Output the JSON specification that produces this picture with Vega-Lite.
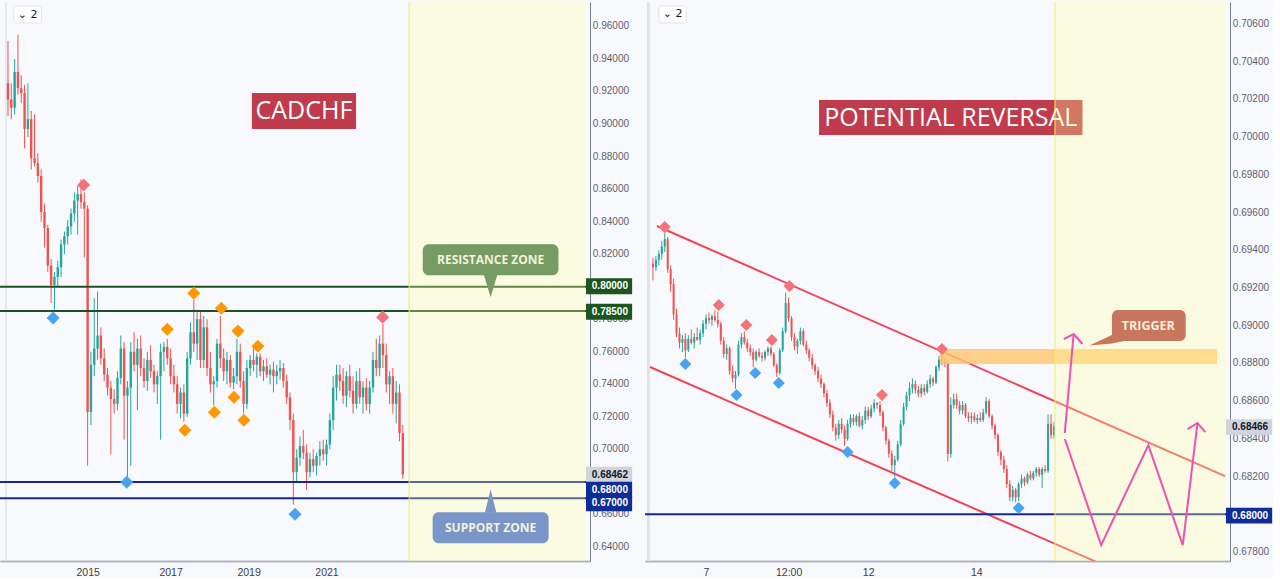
{
"$schema":"https://vega.github.io/schema/vega-lite/v6.json",
"background":"#f8f9fd",
"padding":0,
"spacing":55,
"bounds":"flush",
"config":{"view":{"stroke":null},"axis":{"labelFont":"Liberation Sans","labelOverlap":false,"labelBound":false,"labelFlush":false}},
"datasets":{
"L":[
{"x":0,"o":0.925,"h":0.951,"l":0.905,"c":0.915},{"x":1,"o":0.915,"h":0.925,"l":0.903,"c":0.910},{"x":2,"o":0.910,"h":0.940,"l":0.906,"c":0.932},{"x":3,"o":0.932,"h":0.955,"l":0.918,"c":0.922},{"x":4,"o":0.922,"h":0.930,"l":0.913,"c":0.919},{"x":5,"o":0.919,"h":0.924,"l":0.885,"c":0.897},{"x":6,"o":0.897,"h":0.925,"l":0.892,"c":0.903},{"x":7,"o":0.903,"h":0.908,"l":0.872,"c":0.879},{"x":8,"o":0.879,"h":0.906,"l":0.874,"c":0.876},{"x":9,"o":0.876,"h":0.882,"l":0.864,"c":0.868},
{"x":10,"o":0.868,"h":0.872,"l":0.840,"c":0.846},{"x":11,"o":0.846,"h":0.851,"l":0.824,"c":0.836},{"x":12,"o":0.836,"h":0.838,"l":0.809,"c":0.813},{"x":13,"o":0.813,"h":0.817,"l":0.790,"c":0.801},{"x":14,"o":0.801,"h":0.809,"l":0.786,"c":0.806},{"x":15,"o":0.806,"h":0.816,"l":0.800,"c":0.812},{"x":16,"o":0.812,"h":0.829,"l":0.806,"c":0.826},{"x":17,"o":0.826,"h":0.834,"l":0.820,"c":0.831},{"x":18,"o":0.831,"h":0.841,"l":0.826,"c":0.837},{"x":19,"o":0.837,"h":0.848,"l":0.832,"c":0.845},
{"x":20,"o":0.845,"h":0.858,"l":0.840,"c":0.853},{"x":21,"o":0.853,"h":0.862,"l":0.832,"c":0.857},{"x":22,"o":0.857,"h":0.866,"l":0.848,"c":0.852},{"x":23,"o":0.852,"h":0.858,"l":0.818,"c":0.848},{"x":24,"o":0.848,"h":0.850,"l":0.690,"c":0.723},{"x":25,"o":0.723,"h":0.760,"l":0.715,"c":0.752},{"x":26,"o":0.752,"h":0.793,"l":0.745,"c":0.762},{"x":27,"o":0.762,"h":0.797,"l":0.755,"c":0.770},{"x":28,"o":0.770,"h":0.775,"l":0.752,"c":0.756},{"x":29,"o":0.756,"h":0.762,"l":0.742,"c":0.746},
{"x":30,"o":0.746,"h":0.750,"l":0.733,"c":0.738},{"x":31,"o":0.738,"h":0.742,"l":0.697,"c":0.731},{"x":32,"o":0.731,"h":0.737,"l":0.722,"c":0.728},{"x":33,"o":0.728,"h":0.748,"l":0.724,"c":0.744},{"x":34,"o":0.744,"h":0.770,"l":0.740,"c":0.762},{"x":35,"o":0.762,"h":0.766,"l":0.706,"c":0.733},{"x":36,"o":0.733,"h":0.742,"l":0.682,"c":0.738},{"x":37,"o":0.738,"h":0.766,"l":0.690,"c":0.760},{"x":38,"o":0.760,"h":0.772,"l":0.748,"c":0.752},{"x":39,"o":0.752,"h":0.768,"l":0.724,"c":0.762},
{"x":40,"o":0.762,"h":0.770,"l":0.745,"c":0.750},{"x":41,"o":0.750,"h":0.756,"l":0.738,"c":0.742},{"x":42,"o":0.742,"h":0.760,"l":0.736,"c":0.755},{"x":43,"o":0.755,"h":0.764,"l":0.744,"c":0.748},{"x":44,"o":0.748,"h":0.752,"l":0.735,"c":0.740},{"x":45,"o":0.740,"h":0.748,"l":0.728,"c":0.745},{"x":46,"o":0.745,"h":0.765,"l":0.706,"c":0.760},{"x":47,"o":0.760,"h":0.766,"l":0.748,"c":0.763},{"x":48,"o":0.763,"h":0.768,"l":0.752,"c":0.756},{"x":49,"o":0.756,"h":0.762,"l":0.740,"c":0.745},
{"x":50,"o":0.745,"h":0.752,"l":0.735,"c":0.740},{"x":51,"o":0.740,"h":0.745,"l":0.722,"c":0.728},{"x":52,"o":0.728,"h":0.738,"l":0.719,"c":0.735},{"x":53,"o":0.735,"h":0.740,"l":0.717,"c":0.722},{"x":54,"o":0.722,"h":0.760,"l":0.720,"c":0.756},{"x":55,"o":0.756,"h":0.778,"l":0.752,"c":0.772},{"x":56,"o":0.772,"h":0.792,"l":0.760,"c":0.765},{"x":57,"o":0.765,"h":0.786,"l":0.755,"c":0.780},{"x":58,"o":0.780,"h":0.785,"l":0.750,"c":0.755},{"x":59,"o":0.755,"h":0.782,"l":0.750,"c":0.775},
{"x":60,"o":0.775,"h":0.780,"l":0.745,"c":0.750},{"x":61,"o":0.750,"h":0.760,"l":0.735,"c":0.740},{"x":62,"o":0.740,"h":0.745,"l":0.727,"c":0.742},{"x":63,"o":0.742,"h":0.768,"l":0.738,"c":0.765},{"x":64,"o":0.765,"h":0.782,"l":0.750,"c":0.756},{"x":65,"o":0.756,"h":0.762,"l":0.742,"c":0.748},{"x":66,"o":0.748,"h":0.760,"l":0.740,"c":0.755},{"x":67,"o":0.755,"h":0.758,"l":0.738,"c":0.741},{"x":68,"o":0.741,"h":0.750,"l":0.737,"c":0.745},{"x":69,"o":0.745,"h":0.768,"l":0.740,"c":0.760},
{"x":70,"o":0.760,"h":0.765,"l":0.738,"c":0.742},{"x":71,"o":0.742,"h":0.748,"l":0.722,"c":0.728},{"x":72,"o":0.728,"h":0.755,"l":0.725,"c":0.750},{"x":73,"o":0.750,"h":0.758,"l":0.745,"c":0.755},{"x":74,"o":0.755,"h":0.762,"l":0.748,"c":0.752},{"x":75,"o":0.752,"h":0.759,"l":0.744,"c":0.757},{"x":76,"o":0.757,"h":0.759,"l":0.745,"c":0.748},{"x":77,"o":0.748,"h":0.755,"l":0.742,"c":0.751},{"x":78,"o":0.751,"h":0.756,"l":0.744,"c":0.746},{"x":79,"o":0.746,"h":0.752,"l":0.740,"c":0.749},
{"x":80,"o":0.749,"h":0.754,"l":0.735,"c":0.745},{"x":81,"o":0.745,"h":0.752,"l":0.740,"c":0.748},{"x":82,"o":0.748,"h":0.755,"l":0.743,"c":0.750},{"x":83,"o":0.750,"h":0.753,"l":0.738,"c":0.742},{"x":84,"o":0.742,"h":0.746,"l":0.728,"c":0.732},{"x":85,"o":0.732,"h":0.735,"l":0.712,"c":0.718},{"x":86,"o":0.718,"h":0.722,"l":0.666,"c":0.686},{"x":87,"o":0.686,"h":0.700,"l":0.680,"c":0.695},{"x":88,"o":0.695,"h":0.708,"l":0.690,"c":0.702},{"x":89,"o":0.702,"h":0.712,"l":0.694,"c":0.698},
{"x":90,"o":0.698,"h":0.703,"l":0.675,"c":0.686},{"x":91,"o":0.686,"h":0.698,"l":0.683,"c":0.694},{"x":92,"o":0.694,"h":0.700,"l":0.686,"c":0.690},{"x":93,"o":0.690,"h":0.698,"l":0.684,"c":0.696},{"x":94,"o":0.696,"h":0.705,"l":0.690,"c":0.700},{"x":95,"o":0.700,"h":0.706,"l":0.693,"c":0.697},{"x":96,"o":0.697,"h":0.706,"l":0.690,"c":0.703},{"x":97,"o":0.703,"h":0.722,"l":0.700,"c":0.718},{"x":98,"o":0.718,"h":0.745,"l":0.712,"c":0.738},{"x":99,"o":0.738,"h":0.752,"l":0.730,"c":0.746},
{"x":100,"o":0.746,"h":0.752,"l":0.736,"c":0.742},{"x":101,"o":0.742,"h":0.750,"l":0.728,"c":0.733},{"x":102,"o":0.733,"h":0.748,"l":0.726,"c":0.745},{"x":103,"o":0.745,"h":0.752,"l":0.732,"c":0.736},{"x":104,"o":0.736,"h":0.745,"l":0.722,"c":0.728},{"x":105,"o":0.728,"h":0.748,"l":0.725,"c":0.742},{"x":106,"o":0.742,"h":0.750,"l":0.728,"c":0.732},{"x":107,"o":0.732,"h":0.742,"l":0.722,"c":0.738},{"x":108,"o":0.738,"h":0.744,"l":0.724,"c":0.728},{"x":109,"o":0.728,"h":0.742,"l":0.722,"c":0.738},
{"x":110,"o":0.738,"h":0.760,"l":0.735,"c":0.755},{"x":111,"o":0.755,"h":0.768,"l":0.745,"c":0.750},{"x":112,"o":0.750,"h":0.770,"l":0.745,"c":0.765},{"x":113,"o":0.765,"h":0.777,"l":0.750,"c":0.758},{"x":114,"o":0.758,"h":0.765,"l":0.735,"c":0.740},{"x":115,"o":0.740,"h":0.748,"l":0.728,"c":0.745},{"x":116,"o":0.745,"h":0.750,"l":0.722,"c":0.728},{"x":117,"o":0.728,"h":0.742,"l":0.716,"c":0.735},{"x":118,"o":0.735,"h":0.740,"l":0.705,"c":0.710},{"x":119,"o":0.710,"h":0.715,"l":0.682,"c":0.6846}
],
"LD":[
{"x":22.8,"y":0.8625,"k":"r"},{"x":112.9,"y":0.7813,"k":"r"},
{"x":13.6,"y":0.7807,"k":"b"},{"x":35.8,"y":0.6798,"k":"b"},{"x":86.5,"y":0.6601,"k":"b"},
{"x":48.0,"y":0.7739,"k":"o"},{"x":56.0,"y":0.7960,"k":"o"},{"x":64.3,"y":0.7868,"k":"o"},{"x":69.3,"y":0.7727,"k":"o"},{"x":75.3,"y":0.7634,"k":"o"},{"x":53.3,"y":0.7118,"k":"o"},{"x":62.2,"y":0.7228,"k":"o"},{"x":68.1,"y":0.7321,"k":"o"},{"x":71.1,"y":0.7179,"k":"o"}
],
"LY":[
{"v":0.64,"t":"0.64000"},{"v":0.66,"t":"0.66000"},{"v":0.70,"t":"0.70000"},{"v":0.72,"t":"0.72000"},{"v":0.74,"t":"0.74000"},{"v":0.76,"t":"0.76000"},{"v":0.78,"t":"0.78000"},{"v":0.82,"t":"0.82000"},{"v":0.84,"t":"0.84000"},{"v":0.86,"t":"0.86000"},{"v":0.88,"t":"0.88000"},{"v":0.90,"t":"0.90000"},{"v":0.92,"t":"0.92000"},{"v":0.94,"t":"0.94000"},{"v":0.96,"t":"0.96000"}
],
"RY":[
{"v":0.678,"t":"0.67800"},{"v":0.682,"t":"0.68200"},{"v":0.684,"t":"0.68400"},{"v":0.686,"t":"0.68600"},{"v":0.688,"t":"0.68800"},{"v":0.690,"t":"0.69000"},{"v":0.692,"t":"0.69200"},{"v":0.694,"t":"0.69400"},{"v":0.696,"t":"0.69600"},{"v":0.698,"t":"0.69800"},{"v":0.700,"t":"0.70000"},{"v":0.702,"t":"0.70200"},{"v":0.704,"t":"0.70400"},{"v":0.706,"t":"0.70600"}
],
"R":[
{"x":0,"o":0.69330,"h":0.69360,"l":0.69240,"c":0.69310},{"x":1,"o":0.69310,"h":0.69370,"l":0.69290,"c":0.69350},{"x":2,"o":0.69350,"h":0.69400,"l":0.69320,"c":0.69380},{"x":3,"o":0.69380,"h":0.69450,"l":0.69350,"c":0.69420},{"x":4,"o":0.69420,"h":0.69490,"l":0.69390,"c":0.69460},{"x":5,"o":0.69460,"h":0.69470,"l":0.69280,"c":0.69300},{"x":6,"o":0.69300,"h":0.69320,"l":0.69180,"c":0.69220},{"x":7,"o":0.69220,"h":0.69250,"l":0.69030,"c":0.69060},{"x":8,"o":0.69060,"h":0.69090,"l":0.68940,"c":0.68960},{"x":9,"o":0.68960,"h":0.68990,"l":0.68880,"c":0.68910},
{"x":10,"o":0.68910,"h":0.68950,"l":0.68860,"c":0.68930},{"x":11,"o":0.68930,"h":0.68960,"l":0.68830,"c":0.68870},{"x":12,"o":0.68870,"h":0.68950,"l":0.68860,"c":0.68930},{"x":13,"o":0.68930,"h":0.68980,"l":0.68900,"c":0.68910},{"x":14,"o":0.68910,"h":0.68960,"l":0.68880,"c":0.68940},{"x":15,"o":0.68940,"h":0.68990,"l":0.68920,"c":0.68925},{"x":16,"o":0.68925,"h":0.68980,"l":0.68900,"c":0.68960},{"x":17,"o":0.68960,"h":0.69030,"l":0.68940,"c":0.69010},{"x":18,"o":0.69010,"h":0.69060,"l":0.68980,"c":0.69040},{"x":19,"o":0.69040,"h":0.69070,"l":0.69010,"c":0.69030},
{"x":20,"o":0.69030,"h":0.69060,"l":0.69000,"c":0.69050},{"x":21,"o":0.69050,"h":0.69080,"l":0.69020,"c":0.69030},{"x":22,"o":0.69030,"h":0.69075,"l":0.68990,"c":0.69010},{"x":23,"o":0.69010,"h":0.69020,"l":0.68900,"c":0.68920},{"x":24,"o":0.68920,"h":0.68940,"l":0.68830,"c":0.68850},{"x":25,"o":0.68850,"h":0.68900,"l":0.68820,"c":0.68880},{"x":26,"o":0.68880,"h":0.68890,"l":0.68740,"c":0.68760},{"x":27,"o":0.68760,"h":0.68790,"l":0.68700,"c":0.68720},{"x":28,"o":0.68720,"h":0.68760,"l":0.68665,"c":0.68740},{"x":29,"o":0.68740,"h":0.68920,"l":0.68730,"c":0.68900},
{"x":30,"o":0.68900,"h":0.68960,"l":0.68880,"c":0.68940},{"x":31,"o":0.68940,"h":0.68970,"l":0.68900,"c":0.68910},{"x":32,"o":0.68910,"h":0.68930,"l":0.68860,"c":0.68880},{"x":33,"o":0.68880,"h":0.68900,"l":0.68840,"c":0.68860},{"x":34,"o":0.68860,"h":0.68880,"l":0.68780,"c":0.68820},{"x":35,"o":0.68820,"h":0.68870,"l":0.68810,"c":0.68860},{"x":36,"o":0.68860,"h":0.68880,"l":0.68830,"c":0.68840},{"x":37,"o":0.68840,"h":0.68860,"l":0.68810,"c":0.68830},{"x":38,"o":0.68830,"h":0.68870,"l":0.68815,"c":0.68860},{"x":39,"o":0.68860,"h":0.68890,"l":0.68840,"c":0.68880},
{"x":40,"o":0.68880,"h":0.68890,"l":0.68840,"c":0.68850},{"x":41,"o":0.68850,"h":0.68860,"l":0.68780,"c":0.68790},{"x":42,"o":0.68790,"h":0.68800,"l":0.68728,"c":0.68750},{"x":43,"o":0.68750,"h":0.68880,"l":0.68740,"c":0.68870},{"x":44,"o":0.68870,"h":0.68990,"l":0.68860,"c":0.68970},{"x":45,"o":0.68970,"h":0.69175,"l":0.68960,"c":0.69120},{"x":46,"o":0.69120,"h":0.69150,"l":0.69020,"c":0.69040},{"x":47,"o":0.69040,"h":0.69050,"l":0.68920,"c":0.68940},{"x":48,"o":0.68940,"h":0.68960,"l":0.68870,"c":0.68890},{"x":49,"o":0.68890,"h":0.68930,"l":0.68850,"c":0.68920},
{"x":50,"o":0.68920,"h":0.68990,"l":0.68900,"c":0.68970},{"x":51,"o":0.68970,"h":0.68985,"l":0.68890,"c":0.68900},{"x":52,"o":0.68900,"h":0.68920,"l":0.68850,"c":0.68870},{"x":53,"o":0.68870,"h":0.68880,"l":0.68810,"c":0.68830},{"x":54,"o":0.68830,"h":0.68850,"l":0.68770,"c":0.68790},{"x":55,"o":0.68790,"h":0.68800,"l":0.68740,"c":0.68760},{"x":56,"o":0.68760,"h":0.68780,"l":0.68700,"c":0.68720},{"x":57,"o":0.68720,"h":0.68740,"l":0.68670,"c":0.68690},{"x":58,"o":0.68690,"h":0.68700,"l":0.68620,"c":0.68640},{"x":59,"o":0.68640,"h":0.68660,"l":0.68570,"c":0.68590},
{"x":60,"o":0.68590,"h":0.68610,"l":0.68510,"c":0.68530},{"x":61,"o":0.68530,"h":0.68550,"l":0.68440,"c":0.68460},{"x":62,"o":0.68460,"h":0.68480,"l":0.68390,"c":0.68420},{"x":63,"o":0.68420,"h":0.68500,"l":0.68400,"c":0.68480},{"x":64,"o":0.68480,"h":0.68510,"l":0.68430,"c":0.68450},{"x":65,"o":0.68450,"h":0.68470,"l":0.68362,"c":0.68400},{"x":66,"o":0.68400,"h":0.68500,"l":0.68390,"c":0.68480},{"x":67,"o":0.68480,"h":0.68530,"l":0.68460,"c":0.68510},{"x":68,"o":0.68510,"h":0.68530,"l":0.68470,"c":0.68490},{"x":69,"o":0.68490,"h":0.68530,"l":0.68470,"c":0.68520},
{"x":70,"o":0.68520,"h":0.68540,"l":0.68460,"c":0.68470},{"x":71,"o":0.68470,"h":0.68520,"l":0.68450,"c":0.68500},{"x":72,"o":0.68500,"h":0.68570,"l":0.68480,"c":0.68550},{"x":73,"o":0.68550,"h":0.68570,"l":0.68500,"c":0.68520},{"x":74,"o":0.68520,"h":0.68580,"l":0.68510,"c":0.68560},{"x":75,"o":0.68560,"h":0.68610,"l":0.68540,"c":0.68590},{"x":76,"o":0.68590,"h":0.68595,"l":0.68560,"c":0.68580},{"x":77,"o":0.68580,"h":0.68600,"l":0.68520,"c":0.68540},{"x":78,"o":0.68540,"h":0.68550,"l":0.68440,"c":0.68460},{"x":79,"o":0.68460,"h":0.68470,"l":0.68370,"c":0.68390},
{"x":80,"o":0.68390,"h":0.68400,"l":0.68300,"c":0.68320},{"x":81,"o":0.68320,"h":0.68340,"l":0.68230,"c":0.68260},{"x":82,"o":0.68260,"h":0.68310,"l":0.68197,"c":0.68290},{"x":83,"o":0.68290,"h":0.68390,"l":0.68280,"c":0.68370},{"x":84,"o":0.68370,"h":0.68500,"l":0.68360,"c":0.68480},{"x":85,"o":0.68480,"h":0.68590,"l":0.68470,"c":0.68570},{"x":86,"o":0.68570,"h":0.68650,"l":0.68550,"c":0.68630},{"x":87,"o":0.68630,"h":0.68700,"l":0.68600,"c":0.68670},{"x":88,"o":0.68670,"h":0.68720,"l":0.68640,"c":0.68690},{"x":89,"o":0.68690,"h":0.68710,"l":0.68640,"c":0.68660},
{"x":90,"o":0.68660,"h":0.68680,"l":0.68620,"c":0.68640},{"x":91,"o":0.68640,"h":0.68690,"l":0.68620,"c":0.68670},{"x":92,"o":0.68670,"h":0.68690,"l":0.68630,"c":0.68650},{"x":93,"o":0.68650,"h":0.68710,"l":0.68640,"c":0.68690},{"x":94,"o":0.68690,"h":0.68740,"l":0.68670,"c":0.68720},{"x":95,"o":0.68720,"h":0.68730,"l":0.68680,"c":0.68700},{"x":96,"o":0.68700,"h":0.68790,"l":0.68690,"c":0.68780},{"x":97,"o":0.68780,"h":0.68840,"l":0.68760,"c":0.68820},{"x":98,"o":0.68820,"h":0.68845,"l":0.68790,"c":0.68810},{"x":99,"o":0.68810,"h":0.68830,"l":0.68780,"c":0.68800},
{"x":100,"o":0.68800,"h":0.68820,"l":0.68280,"c":0.68320},{"x":101,"o":0.68320,"h":0.68620,"l":0.68300,"c":0.68580},{"x":102,"o":0.68580,"h":0.68640,"l":0.68560,"c":0.68610},{"x":103,"o":0.68610,"h":0.68640,"l":0.68560,"c":0.68580},{"x":104,"o":0.68580,"h":0.68600,"l":0.68530,"c":0.68550},{"x":105,"o":0.68550,"h":0.68600,"l":0.68530,"c":0.68580},{"x":106,"o":0.68580,"h":0.68590,"l":0.68510,"c":0.68520},{"x":107,"o":0.68520,"h":0.68540,"l":0.68490,"c":0.68510},{"x":108,"o":0.68510,"h":0.68540,"l":0.68480,"c":0.68520},{"x":109,"o":0.68520,"h":0.68540,"l":0.68490,"c":0.68500},
{"x":110,"o":0.68500,"h":0.68530,"l":0.68480,"c":0.68510},{"x":111,"o":0.68510,"h":0.68540,"l":0.68490,"c":0.68500},{"x":112,"o":0.68500,"h":0.68560,"l":0.68490,"c":0.68540},{"x":113,"o":0.68540,"h":0.68620,"l":0.68530,"c":0.68600},{"x":114,"o":0.68600,"h":0.68610,"l":0.68510,"c":0.68520},{"x":115,"o":0.68520,"h":0.68530,"l":0.68450,"c":0.68470},{"x":116,"o":0.68470,"h":0.68480,"l":0.68400,"c":0.68420},{"x":117,"o":0.68420,"h":0.68430,"l":0.68310,"c":0.68330},{"x":118,"o":0.68330,"h":0.68340,"l":0.68260,"c":0.68290},{"x":119,"o":0.68290,"h":0.68310,"l":0.68220,"c":0.68240},
{"x":120,"o":0.68240,"h":0.68260,"l":0.68140,"c":0.68160},{"x":121,"o":0.68160,"h":0.68180,"l":0.68070,"c":0.68090},{"x":122,"o":0.68090,"h":0.68150,"l":0.68070,"c":0.68130},{"x":123,"o":0.68130,"h":0.68140,"l":0.68065,"c":0.68090},{"x":124,"o":0.68090,"h":0.68170,"l":0.68070,"c":0.68160},{"x":125,"o":0.68160,"h":0.68210,"l":0.68140,"c":0.68190},{"x":126,"o":0.68190,"h":0.68200,"l":0.68150,"c":0.68170},{"x":127,"o":0.68170,"h":0.68220,"l":0.68160,"c":0.68210},{"x":128,"o":0.68210,"h":0.68230,"l":0.68180,"c":0.68190},{"x":129,"o":0.68190,"h":0.68230,"l":0.68180,"c":0.68220},
{"x":130,"o":0.68220,"h":0.68250,"l":0.68200,"c":0.68240},{"x":131,"o":0.68240,"h":0.68250,"l":0.68200,"c":0.68210},{"x":132,"o":0.68210,"h":0.68250,"l":0.68140,"c":0.68240},{"x":133,"o":0.68240,"h":0.68260,"l":0.68220,"c":0.68230},{"x":134,"o":0.68230,"h":0.68530,"l":0.68220,"c":0.68480},{"x":135,"o":0.68480,"h":0.68530,"l":0.68400,"c":0.68420},{"x":136,"o":0.68420,"h":0.68490,"l":0.68400,"c":0.68466}
],
"RD":[
{"x":4,"y":0.69523,"k":"r"},{"x":22.33,"y":0.69110,"k":"r"},{"x":31.67,"y":0.69004,"k":"r"},{"x":40.33,"y":0.68924,"k":"r"},{"x":46.33,"y":0.69210,"k":"r"},{"x":77.67,"y":0.68632,"k":"r"},{"x":98,"y":0.68876,"k":"r"},
{"x":11,"y":0.68797,"k":"b"},{"x":28.33,"y":0.68632,"k":"b"},{"x":34.67,"y":0.68749,"k":"b"},{"x":42.67,"y":0.68696,"k":"b"},{"x":66,"y":0.68330,"k":"b"},{"x":82,"y":0.68165,"k":"b"},{"x":124,"y":0.68033,"k":"b"}
]
},
"hconcat":[
{
"width":590,"height":559,
"layer":[
{"data":{"name":"L"},"mark":{"type":"rule","clip":true,"strokeWidth":1},
 "encoding":{"x":{"field":"x","type":"quantitative","scale":{"domain":[-0.9,173.9],"nice":false,"zero":false},
   "axis":{"values":[24,49,72.5,96],"labelExpr":"datum.value<30?'2015':datum.value<60?'2017':datum.value<85?'2019':'2021'","title":null,"grid":false,"ticks":false,"domainColor":"#b2b5be","domainWidth":2,"labelColor":"#3b3e48","labelFontSize":10.5,"labelPadding":6}},
  "y":{"field":"l","type":"quantitative","scale":{"domain":[0.6314,0.975],"nice":false,"zero":false},
   "axis":{"orient":"right","labels":false,"title":null,"grid":false,"ticks":false,"domainColor":"#787b86"}},
  "y2":{"field":"h"},
  "color":{"condition":{"test":"datum.c>=datum.o","value":"#26a69a"},"value":"#ef5350"}}},
{"data":{"values":[{"x":-0.6}]},"mark":{"type":"rule","color":"#e0e3eb","strokeWidth":1.5,"clip":false},
 "encoding":{"x":{"field":"x","type":"quantitative"}}},
{"data":{"name":"L"},"mark":{"type":"bar","clip":true,"size":2.4},
 "encoding":{"x":{"field":"x","type":"quantitative"},"y":{"field":"o","type":"quantitative"},"y2":{"field":"c"},
  "color":{"condition":{"test":"datum.c>=datum.o","value":"#26a69a"},"value":"#ef5350"}}},
{"data":{"values":[{"y":0.80,"k":"g"},{"y":0.785,"k":"g"},{"y":0.68,"k":"n"},{"y":0.67,"k":"n"}]},"mark":{"type":"rule","clip":true,"strokeWidth":2},
 "encoding":{"y":{"field":"y","type":"quantitative"},"color":{"condition":{"test":"datum.k=='g'","value":"#1e5221"},"value":"#15298c"}}},
{"data":{"name":"LD"},"mark":{"type":"point","shape":"diamond","filled":true,"size":170,"opacity":1,"clip":true},
 "encoding":{"x":{"field":"x","type":"quantitative"},"y":{"field":"y","type":"quantitative"},
  "color":{"condition":[{"test":"datum.k=='r'","value":"#f4727a"},{"test":"datum.k=='b'","value":"#4aa3f0"}],"value":"#ff9800"}}},
{"data":{"values":[{"x":73.5,"x2":104.9,"y":0.8969,"y2":0.9190}]},"mark":{"type":"rect","color":"#c03b4b"},
 "encoding":{"x":{"field":"x","type":"quantitative"},"x2":{"field":"x2"},"y":{"field":"y","type":"quantitative"},"y2":{"field":"y2"}}},
{"data":{"values":[{"x":89.2,"y":0.9080,"t":"CADCHF"}]},"mark":{"type":"text","color":"#ffffff","font":"Open Sans","fontSize":25,"align":"center","baseline":"middle"},
 "encoding":{"x":{"field":"x","type":"quantitative"},"y":{"field":"y","type":"quantitative"},"text":{"field":"t"}}},
{"data":{"values":[{"x":120.9,"x2":173.9,"y":0.6314,"y2":0.975}]},"mark":{"type":"rect","color":"#ffff9f","opacity":0.3,"clip":true},
 "encoding":{"x":{"field":"x","type":"quantitative"},"x2":{"field":"x2"},"y":{"field":"y","type":"quantitative"},"y2":{"field":"y2"}}},
{"data":{"values":[{"x":120.9}]},"mark":{"type":"rule","color":"#ecec74","strokeWidth":1},
 "encoding":{"x":{"field":"x","type":"quantitative"}}},
{"data":{"values":[{"x":125.0,"x2":165.9,"y":0.80711,"y2":0.82617,"k":"r"},{"x":127.98,"x2":162.94,"y":0.64228,"y2":0.66135,"k":"s"}]},"mark":{"type":"rect","cornerRadius":6},
 "encoding":{"x":{"field":"x","type":"quantitative"},"x2":{"field":"x2"},"y":{"field":"y","type":"quantitative"},"y2":{"field":"y2"},
  "color":{"condition":{"test":"datum.k=='r'","value":"#769b63"},"value":"#7a95c7"}}},
{"data":{"values":[{"k":"r","x":143.4,"y":0.8075,"y2":0.8075},{"k":"r","x":145.46,"y":0.8075,"y2":0.79357},{"k":"r","x":147.5,"y":0.8075,"y2":0.8075},
  {"k":"s","x":143.7,"y":0.6610,"y2":0.6610},{"k":"s","x":145.46,"y":0.6610,"y2":0.67549},{"k":"s","x":147.2,"y":0.6610,"y2":0.6610}]},
 "mark":{"type":"area","opacity":1},
 "encoding":{"x":{"field":"x","type":"quantitative"},"y":{"field":"y","type":"quantitative"},"y2":{"field":"y2"},"detail":{"field":"k"},
  "color":{"condition":{"test":"datum.k=='r'","value":"#769b63"},"value":"#7a95c7"}}},
{"data":{"values":[{"x":145.46,"y":0.81664,"t":"RESISTANCE ZONE"},{"x":145.46,"y":0.65182,"t":"SUPPORT ZONE"}]},"mark":{"type":"text","color":"#f3f2da","font":"Open Sans","fontWeight":"bold","fontSize":12,"align":"center","baseline":"middle"},
 "encoding":{"x":{"field":"x","type":"quantitative"},"y":{"field":"y","type":"quantitative"},"text":{"field":"t"}}},
{"data":{"name":"LY"},"mark":{"type":"text","clip":false,"font":"Liberation Sans","fontSize":10,"color":"#5d606b","align":"left","baseline":"middle"},
 "encoding":{"x":{"datum":176.27,"type":"quantitative"},"y":{"field":"v","type":"quantitative"},"text":{"field":"t"}}},
{"data":{"values":[{"x":174.2,"x2":188.1,"y":0.79542,"y2":0.80526,"k":"g"},{"x":174.2,"x2":188.1,"y":0.77974,"y2":0.78958,"k":"g"},{"x":174.2,"x2":188.1,"y":0.67949,"y2":0.68933,"k":"w"},{"x":174.2,"x2":188.1,"y":0.67026,"y2":0.68010,"k":"n"},{"x":174.2,"x2":188.1,"y":0.66196,"y2":0.67180,"k":"n"}]},
 "mark":{"type":"rect","clip":false},
 "encoding":{"x":{"field":"x","type":"quantitative"},"x2":{"field":"x2"},"y":{"field":"y","type":"quantitative"},"y2":{"field":"y2"},
  "color":{"condition":[{"test":"datum.k=='g'","value":"#1d5520"},{"test":"datum.k=='w'","value":"#d1d4dc"}],"value":"#0f2d96"}}},
{"data":{"values":[{"x":181.4,"y":0.80034,"t":"0.80000","k":"g"},{"x":181.4,"y":0.78466,"t":"0.78500","k":"g"},{"x":181.4,"y":0.68441,"t":"0.68462","k":"w"},{"x":181.4,"y":0.67518,"t":"0.68000","k":"n"},{"x":181.4,"y":0.66688,"t":"0.67000","k":"n"}]},
 "mark":{"type":"text","clip":false,"font":"Liberation Sans","fontWeight":"bold","fontSize":10,"align":"center","baseline":"middle"},
 "encoding":{"x":{"field":"x","type":"quantitative"},"y":{"field":"y","type":"quantitative"},"text":{"field":"t"},
  "color":{"condition":{"test":"datum.k=='w'","value":"#131722"},"value":"#ffffff"}}},
{"data":{"values":[{"x":1.77,"x2":10.06,"y":0.96209,"y2":0.97254}]},"mark":{"type":"rect","fill":"#ffffff","stroke":"#e0e3eb","strokeWidth":1,"cornerRadius":3},
 "encoding":{"x":{"field":"x","type":"quantitative"},"x2":{"field":"x2"},"y":{"field":"y","type":"quantitative"},"y2":{"field":"y2"}}},
{"data":{"values":[{"x":5.91,"y":0.96731,"t":"⌄ 2"}]},"mark":{"type":"text","color":"#131722","font":"DejaVu Sans","fontSize":11,"align":"center","baseline":"middle"},
 "encoding":{"x":{"field":"x","type":"quantitative"},"y":{"field":"y","type":"quantitative"},"text":{"field":"t"}}}
]
},
{
"width":585,"height":559,
"layer":[
{"data":{"name":"R"},"mark":{"type":"rule","clip":true,"strokeWidth":1},
 "encoding":{"x":{"field":"x","type":"quantitative","scale":{"domain":[-1,194],"nice":false,"zero":false},
   "axis":{"values":[18,46,73,109.67],"labelExpr":"datum.value<30?'7':datum.value<60?'12:00':datum.value<90?'12':'14'","title":null,"grid":false,"ticks":false,"domainColor":"#b2b5be","domainWidth":2,"labelColor":"#3b3e48","labelFontSize":10.5,"labelPadding":6}},
  "y":{"field":"l","type":"quantitative","scale":{"domain":[0.67752,0.70717],"nice":false,"zero":false},
   "axis":{"orient":"right","labels":false,"title":null,"grid":false,"ticks":false,"domainColor":"#787b86"}},
  "y2":{"field":"h"},
  "color":{"condition":{"test":"datum.c>=datum.o","value":"#26a69a"},"value":"#ef5350"}}},
{"data":{"values":[{"x":-1.5}]},"mark":{"type":"rule","color":"#e0e3eb","strokeWidth":3,"clip":false},
 "encoding":{"x":{"field":"x","type":"quantitative"}}},
{"data":{"name":"R"},"mark":{"type":"bar","clip":true,"size":2},
 "encoding":{"x":{"field":"x","type":"quantitative"},"y":{"field":"o","type":"quantitative"},"y2":{"field":"c"},
  "color":{"condition":{"test":"datum.c>=datum.o","value":"#26a69a"},"value":"#ef5350"}}},
{"data":{"values":[{"k":"u","x":1.33,"y":0.69529},{"k":"u","x":194,"y":0.68202},{"k":"l","x":-1,"y":0.68781},{"k":"l","x":150,"y":0.67750}]},
 "mark":{"type":"line","clip":true,"color":"#ee4458","strokeWidth":2},
 "encoding":{"x":{"field":"x","type":"quantitative"},"y":{"field":"y","type":"quantitative"},"detail":{"field":"k"}}},
{"data":{"values":[{"y":0.68}]},"mark":{"type":"rule","clip":true,"strokeWidth":2,"color":"#15298c"},
 "encoding":{"y":{"field":"y","type":"quantitative"}}},
{"data":{"values":[{"x":97.33,"x2":191.33,"y":0.68797,"y2":0.68876}]},"mark":{"type":"rect","color":"#ffc46b","opacity":0.8,"clip":true},
 "encoding":{"x":{"field":"x","type":"quantitative"},"x2":{"field":"x2"},"y":{"field":"y","type":"quantitative"},"y2":{"field":"y2"}}},
{"data":{"name":"RD"},"mark":{"type":"point","shape":"diamond","filled":true,"size":145,"opacity":1,"clip":true},
 "encoding":{"x":{"field":"x","type":"quantitative"},"y":{"field":"y","type":"quantitative"},
  "color":{"condition":{"test":"datum.k=='r'","value":"#f4727a"},"value":"#4aa3f0"}}},
{"data":{"values":[{"x":56.33,"x2":145.67,"y":0.70011,"y2":0.70197}]},"mark":{"type":"rect","color":"#c03b4b"},
 "encoding":{"x":{"field":"x","type":"quantitative"},"x2":{"field":"x2"},"y":{"field":"y","type":"quantitative"},"y2":{"field":"y2"}}},
{"data":{"values":[{"x":101,"y":0.70104,"t":"POTENTIAL REVERSAL"}]},"mark":{"type":"text","color":"#ffffff","font":"Open Sans","fontSize":25,"align":"center","baseline":"middle"},
 "encoding":{"x":{"field":"x","type":"quantitative"},"y":{"field":"y","type":"quantitative"},"text":{"field":"t"}}},
{"data":{"values":[{"x":136.33,"x2":194,"y":0.67752,"y2":0.70717}]},"mark":{"type":"rect","color":"#ffff9f","opacity":0.3,"clip":true},
 "encoding":{"x":{"field":"x","type":"quantitative"},"x2":{"field":"x2"},"y":{"field":"y","type":"quantitative"},"y2":{"field":"y2"}}},
{"data":{"values":[{"x":136.33}]},"mark":{"type":"rule","color":"#ecec74","strokeWidth":1},
 "encoding":{"x":{"field":"x","type":"quantitative"}}},
{"data":{"values":[
  {"k":"a","o":1,"x":139.67,"y":0.68431},{"k":"a","o":2,"x":142.67,"y":0.68956},
  {"k":"b","o":1,"x":139.33,"y":0.68929},{"k":"b","o":2,"x":142.67,"y":0.68956},{"k":"b","o":3,"x":145.67,"y":0.68903},
  {"k":"c","o":1,"x":139.67,"y":0.68399},{"k":"c","o":2,"x":152,"y":0.67836},{"k":"c","o":3,"x":168,"y":0.68367},{"k":"c","o":4,"x":179.67,"y":0.67836},{"k":"c","o":5,"x":184.67,"y":0.68484},
  {"k":"d","o":1,"x":181.33,"y":0.68452},{"k":"d","o":2,"x":184.67,"y":0.68484},{"k":"d","o":3,"x":187.33,"y":0.68436}]},
 "mark":{"type":"line","clip":true,"color":"#f050b4","strokeWidth":2},
 "encoding":{"x":{"field":"x","type":"quantitative"},"y":{"field":"y","type":"quantitative"},"detail":{"field":"k"},"order":{"field":"o"}}},
{"data":{"values":[{"x":155.67,"x2":180.67,"y":0.68919,"y2":0.69083}]},"mark":{"type":"rect","color":"#c9765f","cornerRadius":6},
 "encoding":{"x":{"field":"x","type":"quantitative"},"x2":{"field":"x2"},"y":{"field":"y","type":"quantitative"},"y2":{"field":"y2"}}},
{"data":{"values":[{"x":148,"y":0.68895,"y2":0.68895},{"x":155.67,"y":0.68905,"y2":0.68951},{"x":160,"y":0.68919,"y2":0.68935},{"x":164,"y":0.68921,"y2":0.68921}]},
 "mark":{"type":"area","color":"#c9765f"},
 "encoding":{"x":{"field":"x","type":"quantitative"},"y":{"field":"y","type":"quantitative"},"y2":{"field":"y2"}}},
{"data":{"values":[{"x":168,"y":0.68999,"t":"TRIGGER"}]},"mark":{"type":"text","color":"#f8eedd","font":"Open Sans","fontWeight":"bold","fontSize":12.5,"align":"center","baseline":"middle"},
 "encoding":{"x":{"field":"x","type":"quantitative"},"y":{"field":"y","type":"quantitative"},"text":{"field":"t"}}},
{"data":{"name":"RY"},"mark":{"type":"text","clip":false,"font":"Liberation Sans","fontSize":10,"color":"#5d606b","align":"left","baseline":"middle"},
 "encoding":{"x":{"datum":196.67,"type":"quantitative"},"y":{"field":"v","type":"quantitative"},"text":{"field":"t"}}},
{"data":{"values":[{"x":194.33,"x2":210,"y":0.68420,"y2":0.68504,"k":"w"},{"x":194.33,"x2":210,"y":0.67951,"y2":0.68035,"k":"n"}]},
 "mark":{"type":"rect","clip":false},
 "encoding":{"x":{"field":"x","type":"quantitative"},"x2":{"field":"x2"},"y":{"field":"y","type":"quantitative"},"y2":{"field":"y2"},
  "color":{"condition":{"test":"datum.k=='w'","value":"#d1d4dc"},"value":"#0f2d96"}}},
{"data":{"values":[{"x":202.5,"y":0.68462,"t":"0.68466","k":"w"},{"x":202.5,"y":0.67993,"t":"0.68000","k":"n"}]},
 "mark":{"type":"text","clip":false,"font":"Liberation Sans","fontWeight":"bold","fontSize":10,"align":"center","baseline":"middle"},
 "encoding":{"x":{"field":"x","type":"quantitative"},"y":{"field":"y","type":"quantitative"},"text":{"field":"t"},
  "color":{"condition":{"test":"datum.k=='w'","value":"#131722"},"value":"#ffffff"}}},
{"data":{"values":[{"x":2,"x2":11.33,"y":0.70606,"y2":0.70696}]},"mark":{"type":"rect","fill":"#ffffff","stroke":"#e0e3eb","strokeWidth":1,"cornerRadius":3},
 "encoding":{"x":{"field":"x","type":"quantitative"},"x2":{"field":"x2"},"y":{"field":"y","type":"quantitative"},"y2":{"field":"y2"}}},
{"data":{"values":[{"x":6.67,"y":0.70651,"t":"⌄ 2"}]},"mark":{"type":"text","color":"#131722","font":"DejaVu Sans","fontSize":11,"align":"center","baseline":"middle"},
 "encoding":{"x":{"field":"x","type":"quantitative"},"y":{"field":"y","type":"quantitative"},"text":{"field":"t"}}}
]
}
]
}
